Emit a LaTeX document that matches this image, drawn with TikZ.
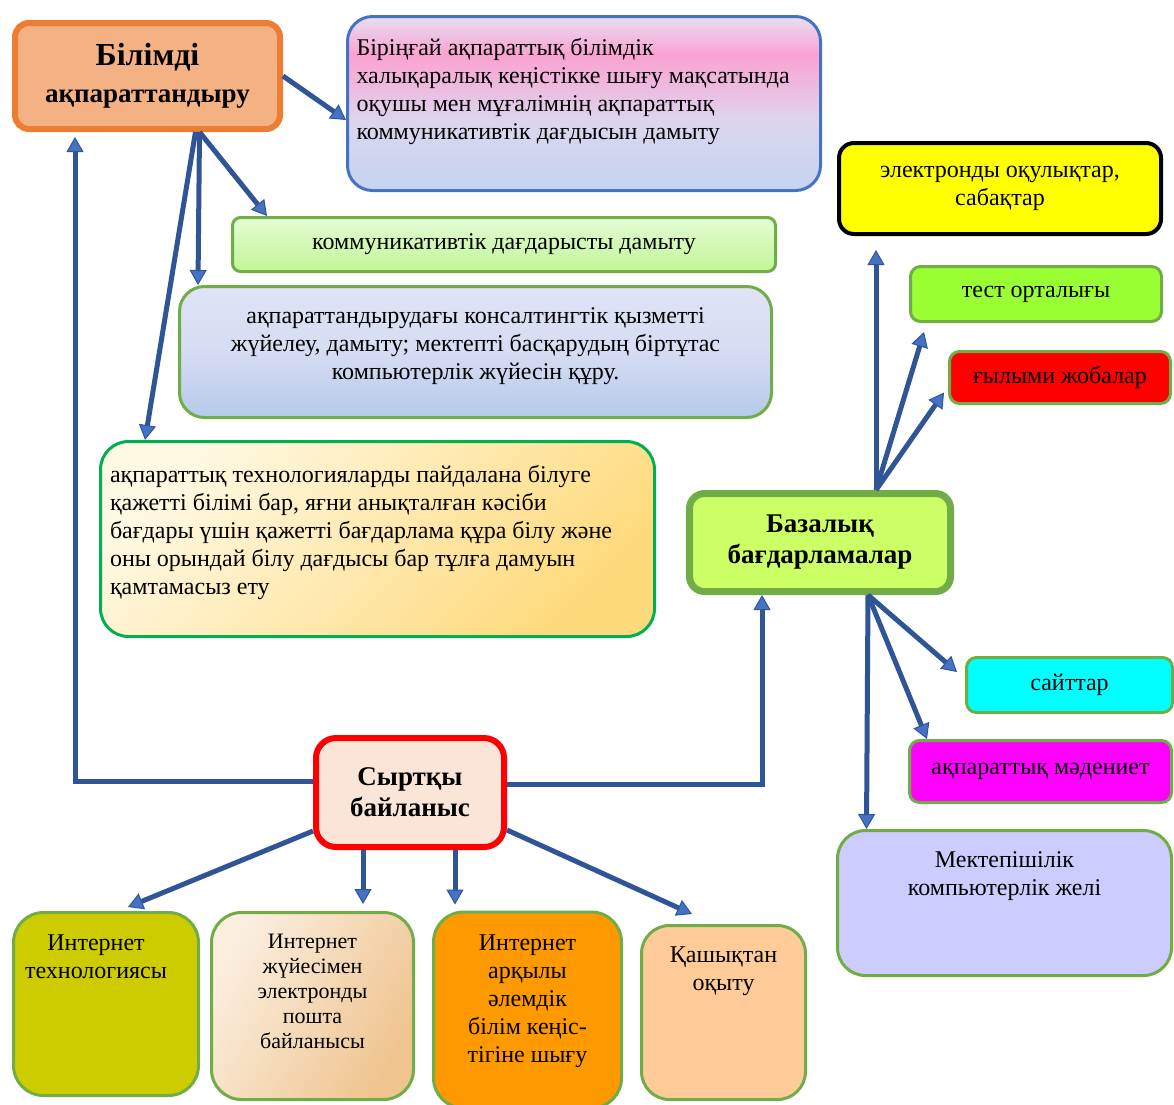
\documentclass[tikz,border=0pt]{standalone}
\usepackage{fontspec}
\setmainfont{Liberation Serif}
\usetikzlibrary{arrows.meta}

\definecolor{linkblue}{HTML}{2F5597}
\definecolor{linkfill}{HTML}{4472C4}
\definecolor{boxgreen}{HTML}{70AD47}
\definecolor{bilfill}{HTML}{F4B183}
\definecolor{bildraw}{HTML}{ED7D31}
\definecolor{maqdraw}{HTML}{4472C4}
\definecolor{maqtop}{HTML}{E8DEF2}
\definecolor{maqpink}{HTML}{FAA2D2}
\definecolor{maqmid}{HTML}{DDD5EE}
\definecolor{maqlow}{HTML}{C4D4F0}
\definecolor{komtop}{HTML}{E3FCD4}
\definecolor{kombot}{HTML}{C2F597}
\definecolor{kontop}{HTML}{DFE3F6}
\definecolor{konmid}{HTML}{D6DCF3}
\definecolor{konbot}{HTML}{B5CAEA}
\definecolor{techdraw}{HTML}{00B050}
\definecolor{techtop}{HTML}{FFF8E2}
\definecolor{techbot}{HTML}{FFDA7C}
\definecolor{bazfill}{HTML}{CCFF66}
\definecolor{okulfill}{HTML}{FFFF00}
\definecolor{testfill}{HTML}{99FF33}
\definecolor{gylfill}{HTML}{FF0000}
\definecolor{saytfill}{HTML}{00FFFF}
\definecolor{madfill}{HTML}{FF00FF}
\definecolor{jelifill}{HTML}{CCCCFF}
\definecolor{syrfill}{HTML}{FBE5D6}
\definecolor{syrdraw}{HTML}{FF0000}
\definecolor{inetfill}{HTML}{CCCC00}
\definecolor{pochtlight}{HTML}{FBEEDF}
\definecolor{pochtdark}{HTML}{EFC48E}
\definecolor{alemfill}{HTML}{FF9900}
\definecolor{qashfill}{HTML}{FFCC99}

\pgfdeclareverticalshading{pinkband}{100bp}{color(0bp)=(maqlow); color(25bp)=(maqlow); color(45bp)=(maqmid); color(64bp)=(maqpink); color(75bp)=(maqtop); color(100bp)=(maqtop)}

\begin{document}
\begin{tikzpicture}[x=1pt, y=-1pt,
  box/.style={rectangle, draw=boxgreen, line width=3pt, rounded corners=10pt, align=center, inner sep=0pt, font=\fontsize{24}{28}\selectfont},
  head/.style={box, line width=6pt, font=\fontsize{27}{31}\selectfont\bfseries},
  link/.style={draw=linkblue, line width=5pt, -{Triangle[width=17pt,length=15pt,line width=1pt,fill=linkfill]}}]
  \useasboundingbox (0,0) rectangle (1174,1104);

  \node[head, draw=bildraw, fill=bilfill, minimum width=265pt, minimum height=106pt, rounded corners=14pt, font=\fontsize{27}{37}\selectfont\bfseries] (bil) at (147.5,76) {{\fontsize{32}{37}\selectfont Білімді}\\ақпараттандыру};
  \node[box, draw=maqdraw, shade, shading=pinkband, minimum width=473pt, minimum height=174pt, rounded corners=25pt, inner xsep=9pt] (maq) at (584,103.5) {\parbox[c][174pt][t]{455pt}{\vspace{21.5pt}\raggedright
    Біріңғай ақпараттық білімдік\\
    халықаралық кеңістікке шығу мақсатында\\
    оқушы мен мұғалімнің ақпараттық\\
    коммуникативтік дағдысын дамыту}};
  \node[box, top color=komtop, bottom color=kombot, minimum width=543pt, minimum height=54pt, rounded corners=8pt] (kom) at (504,244.5) {коммуникативтік дағдарысты дамыту};
  \node[box, top color=kontop, bottom color=konbot, middle color=konmid, minimum width=592pt, minimum height=131pt, rounded corners=25pt] (kon) at (475.5,352) {\parbox[c][131pt][t]{572pt}{\vspace{21pt}\centering
    ақпараттандырудағы консалтингтік қызметті\\
    жүйелеу, дамыту; мектепті басқарудың біртұтас\\
    компьютерлік жүйесін құру.}};
  \node[box, draw=techdraw, top color=techtop, bottom color=techbot, shading angle=45, minimum width=554pt, minimum height=195pt, rounded corners=28pt, inner xsep=9.5pt] (tech) at (377.5,539) {\parbox[c][195pt][t]{535pt}{\vspace{24pt}\raggedright
    ақпараттық технологияларды пайдалана білуге\\
    қажетті білімі бар, яғни анықталған кәсіби\\
    бағдары үшін қажетті бағдарлама құра білу және\\
    оны орындай білу дағдысы бар тұлға дамуын\\
    қамтамасыз ету}};

  \node[head, draw=boxgreen, fill=bazfill, line width=7pt, minimum width=261pt, minimum height=98pt, rounded corners=15pt] (baz) at (820,542.5) {Базалық\\бағдарламалар};
  \node[box, draw=black, line width=4pt, fill=okulfill, minimum width=322pt, minimum height=91pt, rounded corners=15pt] (okul) at (1000,188.5) {электронды оқулықтар,\\сабақтар};
  \node[box, fill=testfill, minimum width=251pt, minimum height=55pt] (test) at (1036,294) {тест орталығы};
  \node[box, fill=gylfill, minimum width=221pt, minimum height=52pt] (gyl) at (1060,377.5) {ғылыми жобалар};
  \node[box, fill=saytfill, minimum width=206pt, minimum height=55pt] (sayt) at (1069.5,685) {сайттар};
  \node[box, fill=madfill, minimum width=262pt, minimum height=62pt] (mad) at (1040.5,771.5) {ақпараттық мәдениет};
  \node[box, fill=jelifill, minimum width=334pt, minimum height=145pt, rounded corners=28pt] (jeli) at (1004.5,903) {\parbox[c][145pt][t]{320pt}{\vspace{21.5pt}\centering
    Мектепішілік\\компьютерлік желі}};

  \node[head, draw=syrdraw, fill=syrfill, minimum width=188pt, minimum height=109pt, rounded corners=20pt] (syr) at (410,792.5) {Сыртқы\\байланыс};
  \node[box, fill=inetfill, minimum width=185pt, minimum height=183pt, rounded corners=30pt] (inet) at (106,1004) {\parbox[c][183pt][t]{175pt}{\vspace{22.5pt}\centering\rightskip=20pt plus 1fil
    Интернет\\технологиясы}};
  \node[box, top color=pochtlight, bottom color=pochtdark, shading angle=60, minimum width=202pt, minimum height=187pt, rounded corners=30pt, font=\fontsize{22}{25}\selectfont] (pocht) at (312.5,1006) {\parbox[c][187pt][t]{190pt}{\vspace{21.5pt}\centering
    Интернет\\жүйесімен\\электронды\\пошта\\байланысы}};
  \node[box, fill=alemfill, minimum width=188pt, minimum height=196pt, rounded corners=30pt] (alem) at (527.5,1010) {\parbox[c][196pt][t]{180pt}{\vspace{22.5pt}\centering
    Интернет\\арқылы\\әлемдік\\білім кеңіс-\\тігіне шығу}};
  \node[box, fill=qashfill, minimum width=164pt, minimum height=174pt, rounded corners=28pt] (qash) at (723.5,1012.5) {\parbox[c][174pt][t]{155pt}{\vspace{21.5pt}\centering
    Қашықтан\\оқыту}};

  \draw[link] (bil.east) -- ([yshift=-16.5pt]maq.west);
  \draw[link] ([xshift=52pt]bil.south) -- ([xshift=36pt]kom.north west);
  \draw[link] ([xshift=52pt]bil.south) -- ([xshift=20pt]kon.north west);
  \draw[link] ([xshift=48pt]bil.south) -- ([xshift=46pt]tech.north west);
  \draw[link] ([yshift=11pt]syr.west) -| ([xshift=-72.5pt,yshift=-5pt]bil.south);
  \draw[link] ([yshift=8pt]syr.east) -| ([xshift=-58pt]baz.south);
  \draw[link] ([xshift=56pt]baz.north) -- ([xshift=-124pt,yshift=-14pt]okul.south);
  \draw[link] ([xshift=56pt]baz.north) -- ([xshift=15pt,yshift=-9pt]test.south west);
  \draw[link] ([xshift=56pt]baz.north) -- ([xshift=-4pt,yshift=-15pt]gyl.west);
  \draw[link] ([xshift=48pt]baz.south) -- ([xshift=-8pt,yshift=13pt]sayt.west);
  \draw[link] ([xshift=48pt]baz.south) -- ([xshift=19pt]mad.north west);
  \draw[link] ([xshift=48pt]baz.south) -- ([xshift=30.5pt]jeli.north west);
  \draw[link] ([yshift=19pt]syr.south west) -- ([xshift=22pt,yshift=4pt]inet.north);
  \draw[link] ([xshift=-47pt]syr.south) -- ([xshift=50.5pt,yshift=7pt]pocht.north);
  \draw[link] ([xshift=45pt]syr.south) -- ([xshift=-72.5pt,yshift=6pt]alem.north);
  \draw[link] ([yshift=20pt]syr.south east) -- ([xshift=-31.5pt,yshift=10pt]qash.north);
\end{tikzpicture}
\end{document}
